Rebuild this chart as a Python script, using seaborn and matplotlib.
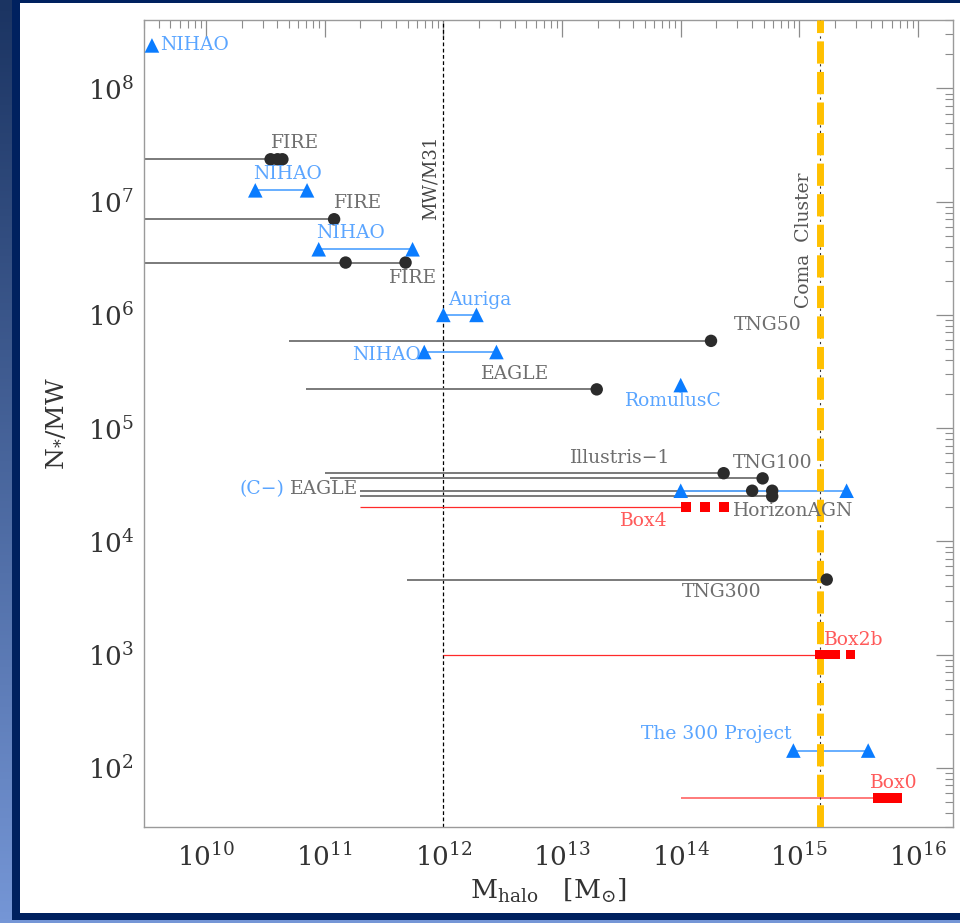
import numpy as np
import pandas as pd
import matplotlib
matplotlib.use("Agg")
import matplotlib.pyplot as plt
from matplotlib.patches import Rectangle
from matplotlib.ticker import LogLocator, NullFormatter
import seaborn as sns

# ---- data: hydro boxes (grey line + black dots) ----
hydro_names = ["FIRE", "FIRE", "FIRE", "TNG50", "EAGLE", "Illustris-1",
               "TNG100", "EAGLE", "HorizonAGN", "TNG300"]
hydro_n = [2.37e7, 7.0e6, 2.9e6, 5.9e5, 2.2e5, 4.0e4, 3.6e4, 2.8e4, 2.5e4, 4.6e3]
hydro_xlo = [1e9, 1e9, 1e9, 5e10, 6.9e10, 1e11, 1.1e11, 2e11, 2e11, 4.9e11]
hydro_dots = [[3.5e10, 4.0e10, 4.4e10], [1.2e11], [1.5e11, 4.8e11], [1.8e14],
              [1.96e13], [2.3e14], [4.9e14], [4.0e14, 5.9e14], [5.9e14], [1.7e15]]

# ---- data: zoom runs (blue triangles) ----
zoom_names = ["NIHAO", "NIHAO", "NIHAO", "Auriga", "NIHAO", "RomulusC",
              "C-EAGLE", "The 300 Project"]
zoom_n = [2.4e8, 1.26e7, 3.8e6, 1.0e6, 4.7e5, 2.4e5, 2.8e4, 142]
zoom_halos = [[3.5e9], [2.6e10, 7.1e10], [8.9e10, 5.5e11], [1.0e12, 1.9e12],
              [6.9e11, 2.8e12], [1.0e14], [1.0e14, 2.5e15], [8.9e14, 3.8e15]]

# ---- data: Magneticum boxes (red squares) ----
box_names = ["Box4", "Box2b", "Box0"]
box_n = [2.0e4, 1.0e3, 54]
box_xlo = [2e11, 1e12, 1e14]
box_halos = [[1.1e14, 1.6e14, 2.3e14],
             [1.48e15, 1.7e15, 2.0e15, 2.7e15],
             [4.6e15, 5.2e15, 5.9e15, 6.7e15]]

mw_mass = 1e12
coma_mass = 1.5e15

# label placement (text, x, y, colour key, ha)
labels = [
    ("NIHAO", 4.1e9, 2.4e8, "blue", "left"),
    ("FIRE", 5.6e10, 3.3e7, "grey", "center"),
    ("NIHAO", 4.9e10, 1.74e7, "blue", "center"),
    ("FIRE", 1.9e11, 9.7e6, "grey", "center"),
    ("NIHAO", 1.66e11, 5.3e6, "blue", "center"),
    ("FIRE", 5.5e11, 2.1e6, "grey", "center"),
    ("Auriga", 1.1e12, 1.35e6, "blue", "left"),
    ("TNG50", 5.4e14, 8.1e5, "grey", "center"),
    ("NIHAO", 6.4e11, 4.4e5, "blue", "right"),
    ("EAGLE", 4.0e12, 3.0e5, "grey", "center"),
    ("RomulusC", 8.6e13, 1.74e5, "blue", "center"),
    ("Illustris\u22121", 3.1e13, 5.5e4, "grey", "center"),
    ("TNG100", 6.0e14, 4.9e4, "grey", "center"),
    ("(C\u2212)", 4.6e10, 2.9e4, "blue", "right"),
    ("EAGLE", 5.1e10, 2.9e4, "grey", "left"),
    ("HorizonAGN", 2.77e14, 1.86e4, "grey", "left"),
    ("Box4", 4.9e13, 1.5e4, "red", "center"),
    ("TNG300", 2.2e14, 3.6e3, "grey", "center"),
    ("Box2b", 2.9e15, 1.35e3, "red", "center"),
    ("The 300 Project", 2.0e14, 197, "blue", "center"),
    ("Box0", 6.2e15, 74, "red", "center"),
]
text_col = {"grey": "#6e6e6e", "blue": "#5aa5ff", "red": "#ff5a5a"}

sns.set_theme(style="white")
plt.rcParams["font.family"] = ["DejaVu Serif", "DejaVu Sans"]
plt.rcParams["mathtext.fontset"] = "dejavuserif"

fig = plt.figure(figsize=(9.6, 9.23), dpi=100)

# slide background frame
bg = fig.add_axes([0, 0, 1, 1], zorder=-10)
bg.set_xlim(0, 960)
bg.set_ylim(923, 0)
bg.set_xticks([])
bg.set_yticks([])
bg.axis("off")
grad = np.linspace(0, 1, 256).reshape(-1, 1)
bg.imshow(grad, extent=[0, 960, 923, 0], aspect="auto",
          cmap=matplotlib.colors.LinearSegmentedColormap.from_list("bgc", ["#1b3462", "#7596d6"]))
bg.add_patch(Rectangle((12, 0), 948, 920, color="#00215f", lw=0))
bg.add_patch(Rectangle((20, 3), 940, 910, color="white", lw=0))

ax = fig.add_axes([0.15, 0.104, 0.8427, 0.874])
ax.set_xscale("log")
ax.set_yscale("log")
ax.set_xlim(3.0e9, 1.97e16)
ax.set_ylim(30, 4.0e8)
ax.set_facecolor("white")

# grey hydro lines + dots
hydro_pts = pd.DataFrame([(x, n) for n, d in zip(hydro_n, hydro_dots) for x in d], columns=["M", "N"])
ax.hlines(hydro_n, hydro_xlo, [max(d) for d in hydro_dots], color="#7a7a7a", lw=1.4, zorder=2)

# blue zoom lines + triangles
zoom_pts = pd.DataFrame([(x, n) for n, d in zip(zoom_n, zoom_halos) for x in d], columns=["M", "N"])
multi = [i for i, d in enumerate(zoom_halos) if len(d) > 1]
ax.hlines([zoom_n[i] for i in multi], [min(zoom_halos[i]) for i in multi],
          [max(zoom_halos[i]) for i in multi], color="#5aa8ff", lw=1.3, zorder=2)

# red box lines + squares
box_pts = pd.DataFrame([(x, n) for n, d in zip(box_n, box_halos) for x in d], columns=["M", "N"])
ax.hlines(box_n[:2], box_xlo[:2], [min(d) for d in box_halos[:2]], color="#ff2a2a", lw=0.9, zorder=2)
ax.hlines(box_n[2:], box_xlo[2:], [min(d) for d in box_halos[2:]], color="#ff7070", lw=1.3, zorder=2)

# reference masses
ax.axvline(mw_mass, color="black", ls=(0, (3, 2)), lw=0.9, zorder=1)
ax.axvline(coma_mass, color="#333333", ls=(0, (2, 3)), lw=0.8, zorder=3)
ax.axvline(coma_mass, color="#ffc000", ls=(0, (3.2, 1.2)), lw=5, zorder=3)

sns.scatterplot(data=hydro_pts, x="M", y="N", ax=ax, marker="o", s=80,
                color="#2b2b2b", edgecolor="none", zorder=5, legend=False)
sns.scatterplot(data=zoom_pts, x="M", y="N", ax=ax, marker="^", s=110,
                color="#0a7cff", edgecolor="none", zorder=5, legend=False)
sns.scatterplot(data=box_pts, x="M", y="N", ax=ax, marker="s", s=50,
                color="#ff0000", edgecolor="none", zorder=4, legend=False)

for txt, x, y, c, ha in labels:
    ax.text(x, y, txt, color=text_col[c], fontsize=13.5, ha=ha, va="center", zorder=6)
ax.text(7.8e11, 1.64e7, "MW/M31", rotation=90, color="#444444", fontsize=13,
        ha="center", va="center")
ax.text(1.1e15, 4.6e6, "Coma  Cluster", rotation=90, color="#555555", fontsize=13.5,
        ha="center", va="center")

ax.set_xlabel(r"$\mathrm{M_{halo}}\ \ \ [\mathrm{M}_{\odot}]$", fontsize=19, color="#333333", labelpad=4)
ax.set_ylabel(r"$\mathrm{N_{*}/MW}$", fontsize=18, color="#333333", labelpad=14)

for axis in (ax.xaxis, ax.yaxis):
    axis.set_major_locator(LogLocator(base=10, numticks=20))
    axis.set_minor_locator(LogLocator(base=10, subs=np.arange(2, 10), numticks=20))
    axis.set_minor_formatter(NullFormatter())
ax.tick_params(which="both", direction="in", top=True, right=True, color="#8c8c8c",
               labelcolor="#333333", labelsize=19)
ax.tick_params(which="major", length=12, width=0.9)
ax.tick_params(which="minor", length=5.5, width=0.8)
ax.tick_params(axis="x", pad=12)
ax.tick_params(axis="y", pad=7)
for sp in ax.spines.values():
    sp.set_color("#9a9a9a")
    sp.set_linewidth(1.0)

fig.savefig("out.png", dpi=100)
